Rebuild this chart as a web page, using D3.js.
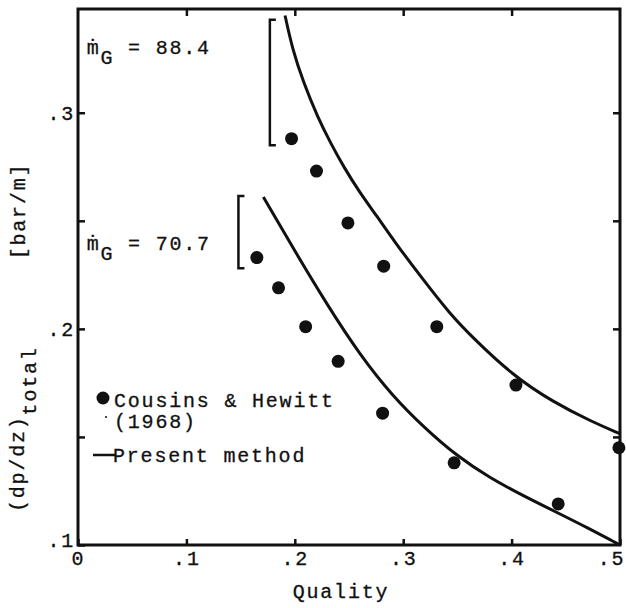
<!DOCTYPE html>
<html>
<head>
<meta charset="utf-8">
<script src="https://cdn.jsdelivr.net/npm/d3@7"></script>
<style>
  body { margin: 0; background: #fff; }
  text { font-family: "Liberation Mono", "DejaVu Sans Mono", monospace; fill: #111; stroke: #111; stroke-width: 0.3px; }
</style>
</head>
<body>
<script>
// measured points, Cousins & Hewitt (1968)
var upperPts = [[0.197, 0.288], [0.220, 0.273], [0.249, 0.249], [0.282, 0.229],
                [0.331, 0.201], [0.404, 0.174], [0.499, 0.145]];
var lowerPts = [[0.165, 0.233], [0.185, 0.219], [0.210, 0.201], [0.240, 0.185],
                [0.281, 0.161], [0.347, 0.138], [0.443, 0.119]];

// present method curves
var upperCurve = [[0.191, 0.345], [0.198, 0.329], [0.208, 0.314], [0.221, 0.298],
                  [0.233, 0.286], [0.245, 0.275], [0.260, 0.263], [0.276, 0.252],
                  [0.291, 0.241], [0.318, 0.223], [0.343, 0.207], [0.364, 0.196],
                  [0.401, 0.1785], [0.438, 0.1662], [0.475, 0.1568], [0.500, 0.1515]];
var lowerCurve = [[0.171, 0.261], [0.200, 0.236], [0.230, 0.211], [0.260, 0.188],
                  [0.290, 0.169], [0.320, 0.154], [0.350, 0.141], [0.380, 0.131],
                  [0.410, 0.123], [0.440, 0.1155], [0.470, 0.108], [0.500, 0.100]];

var xTicks = [0, 0.1, 0.2, 0.3, 0.4, 0.5];
var xTickLabels = ["0", ".1", ".2", ".3", ".4", ".5"];
var yTicks = [0.1, 0.15, 0.2, 0.25, 0.3];
var yTickLabels = [".1", "", ".2", "", ".3"];

// flow-rate labels + brackets
var flowLabels = [{ m: "88.4", x: 0.008, y: 0.327 }, { m: "70.7", x: 0.008, y: 0.2365 }];
var brackets = [{ x: 0.177, y0: 0.343, y1: 0.285 }, { x: 0.148, y0: 0.2615, y1: 0.228 }];

var w = 626, h = 608;
var svg = d3.select("body").append("svg").attr("width", w).attr("height", h);
svg.append("rect").attr("width", w).attr("height", h).attr("fill", "#fff");

var x = d3.scaleLinear().domain([0, 0.5]).range([78, 620]);
var y = d3.scaleLinear().domain([0.1, 0.348]).range([545, 9]);

var fs = 20, ls = 1.8;

// axes, ticks pointing inward
var xAxis = svg.append("g").attr("transform", "translate(0," + y(0.1) + ")")
  .call(d3.axisBottom(x).tickValues(xTicks).tickSize(-6).tickPadding(6)
    .tickFormat(function(d, i) { return xTickLabels[i]; }));
var yAxis = svg.append("g").attr("transform", "translate(" + x(0) + ",0)")
  .call(d3.axisLeft(y).tickValues(yTicks).tickSize(-7).tickPadding(3)
    .tickFormat(function(d, i) { return yTickLabels[i]; }));
svg.append("g").attr("transform", "translate(0," + y(0.348) + ")")
  .call(d3.axisTop(x).tickValues([0.1, 0.2, 0.3, 0.4]).tickSize(-7).tickFormat(""));
svg.append("g").attr("transform", "translate(" + x(0.5) + ",0)")
  .call(d3.axisRight(y).tickValues([0.15, 0.2, 0.25, 0.3]).tickSize(-7).tickFormat(""));

svg.selectAll(".domain").remove();
svg.selectAll(".tick line").attr("stroke", "#111").attr("stroke-width", 2.5);
svg.selectAll(".tick text").attr("font-size", fs).attr("fill", "#111")
  .style("letter-spacing", ls + "px");
xAxis.selectAll(".tick text").filter(function(d) { return d === 0.5; }).attr("x", -9);
// corner label sits a little above the x labels
yAxis.selectAll(".tick text").filter(function(d) { return d === 0.1; }).attr("y", -5);

// frame
svg.append("rect")
  .attr("x", x(0)).attr("y", y(0.348))
  .attr("width", x(0.5) - x(0)).attr("height", y(0.1) - y(0.348))
  .attr("fill", "none").attr("stroke", "#111").attr("stroke-width", 3);

// curves
var line = d3.line().x(function(d) { return x(d[0]); }).y(function(d) { return y(d[1]); })
  .curve(d3.curveBasis);
[upperCurve, lowerCurve].forEach(function(c) {
  svg.append("path").datum(c).attr("d", line)
    .attr("fill", "none").attr("stroke", "#111").attr("stroke-width", 3);
});

// points
svg.selectAll("circle.pt").data(upperPts.concat(lowerPts)).enter()
  .append("circle").attr("class", "pt")
  .attr("cx", function(d) { return x(d[0]); })
  .attr("cy", function(d) { return y(d[1]); })
  .attr("r", 6.5).attr("fill", "#111");

// brackets
brackets.forEach(function(b) {
  var bx = x(b.x), t = y(b.y0), bt = y(b.y1);
  svg.append("path")
    .attr("d", "M" + (bx + 6) + "," + t + "H" + bx + "V" + bt + "H" + (bx + 6))
    .attr("fill", "none").attr("stroke", "#111").attr("stroke-width", 2.5);
});

// flow labels
flowLabels.forEach(function(f) {
  var t = svg.append("text").attr("x", x(f.x)).attr("y", y(f.y))
    .attr("font-size", fs).style("letter-spacing", ls + "px");
  t.append("tspan").text("ṁ");
  t.append("tspan").attr("dy", 10).text("G");
  t.append("tspan").attr("dy", -10).text(" = " + f.m);
});

// legend
svg.append("circle").attr("cx", 103).attr("cy", 398).attr("r", 6.5).attr("fill", "#111");
svg.append("text").attr("x", 114).attr("y", 407).attr("font-size", fs)
  .style("letter-spacing", ls + "px").text("Cousins & Hewitt");
svg.append("circle").attr("cx", 106).attr("cy", 417).attr("r", 1).attr("fill", "#111");
svg.append("text").attr("x", 114).attr("y", 428).attr("font-size", fs)
  .style("letter-spacing", ls + "px").text("(1968)");
svg.append("line").attr("x1", 93).attr("x2", 115).attr("y1", 455).attr("y2", 455)
  .attr("stroke", "#111").attr("stroke-width", 2.5);
svg.append("text").attr("x", 113).attr("y", 462).attr("font-size", fs)
  .style("letter-spacing", ls + "px").text("Present method");

// axis titles
svg.append("text").attr("x", 341).attr("y", 598).attr("text-anchor", "middle")
  .attr("font-size", fs).style("letter-spacing", ls + "px").text("Quality");

svg.append("text").attr("transform", "translate(25,211) rotate(-90)")
  .attr("text-anchor", "middle").attr("font-size", fs)
  .style("letter-spacing", ls + "px").text("[bar/m]");

var yl = svg.append("text").attr("transform", "translate(24,512) rotate(-90)")
  .attr("font-size", fs).style("letter-spacing", ls + "px");
yl.append("tspan").text("(dp/dz)");
yl.append("tspan").attr("dy", 12).text("total");
</script>
</body>
</html>
